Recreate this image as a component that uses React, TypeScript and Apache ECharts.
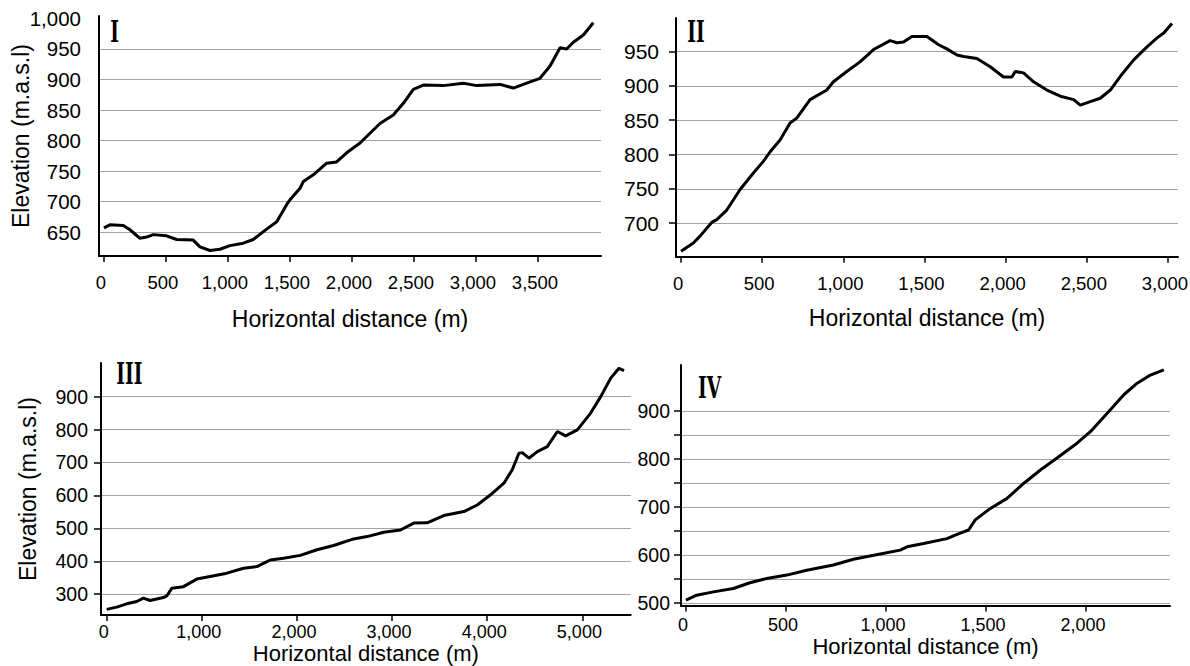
import React, { useEffect, useRef } from 'react';
import * as echarts from 'echarts';

// ---------- Data ----------
// Panel I
const distI = [0, 48, 156, 210, 290, 344, 398, 505, 586, 720, 774, 855, 935, 1016, 1124, 1204, 1312, 1393, 1473, 1500, 1581, 1608, 1688, 1796, 1876, 1957, 2065, 2145, 2226, 2333, 2414, 2495, 2575, 2737, 2898, 3006, 3194, 3301, 3409, 3516, 3597, 3678, 3731, 3785, 3866, 3946];
const elevI = [657, 662, 661, 654, 640, 642, 646, 644, 638, 637, 626, 620, 622, 628, 632, 638, 655, 667, 695, 703, 722, 733, 744, 763, 765, 780, 796, 812, 828, 842, 861, 884, 891, 890, 894, 890, 892, 886, 894, 902, 922, 952, 950, 961, 973, 993];

// Panel II
const distII = [0, 76, 117, 189, 220, 282, 364, 446, 507, 549, 610, 672, 713, 795, 898, 939, 1021, 1103, 1186, 1288, 1330, 1371, 1422, 1515, 1587, 1638, 1700, 1741, 1823, 1905, 1987, 2039, 2059, 2110, 2172, 2254, 2337, 2419, 2460, 2522, 2583, 2645, 2707, 2789, 2871, 2933, 2974, 3025];
const elevII = [659, 671, 681, 701, 705, 719, 749, 773, 790, 804, 821, 846, 853, 880, 894, 906, 921, 935, 953, 966, 963, 964, 972, 972, 960, 954, 945, 943, 940, 928, 913, 913, 921, 919, 906, 894, 885, 880, 872, 877, 882, 894, 914, 938, 957, 970, 977, 991];

// Panel III
const distIII = [0, 105, 210, 316, 386, 456, 596, 632, 684, 806, 947, 1087, 1263, 1438, 1579, 1648, 1719, 1859, 2035, 2210, 2385, 2596, 2737, 2912, 3087, 3228, 3368, 3543, 3754, 3895, 4035, 4175, 4263, 4333, 4368, 4438, 4526, 4631, 4737, 4824, 4947, 5087, 5193, 5298, 5385, 5438];
const elevIII = [254, 261, 271, 278, 288, 281, 290, 295, 318, 323, 346, 354, 364, 379, 384, 394, 404, 409, 418, 435, 448, 468, 475, 488, 495, 516, 517, 539, 551, 571, 602, 637, 678, 728, 730, 713, 733, 748, 794, 781, 799, 850, 900, 956, 986, 979];

// Panel IV
const distIV = [0, 53, 137, 237, 320, 404, 504, 604, 737, 837, 971, 1071, 1105, 1188, 1305, 1355, 1413, 1446, 1522, 1605, 1688, 1772, 1855, 1955, 2022, 2105, 2189, 2256, 2322, 2389];
const elevIV = [506, 516, 523, 530, 542, 551, 558, 568, 579, 591, 602, 610, 617, 624, 634, 643, 652, 673, 697, 718, 749, 777, 802, 833, 857, 895, 934, 958, 975, 986];

// Tick values
const xTicksI = [0, 500, 1000, 1500, 2000, 2500, 3000, 3500];
const yLabelsI = [650, 700, 750, 800, 850, 900, 950, 1000];
const yGridI = [650, 700, 750, 800, 850, 900, 950];
const xTicksII = [0, 500, 1000, 1500, 2000, 2500, 3000];
const yLabelsII = [700, 750, 800, 850, 900, 950];
const xTicksIII = [0, 1000, 2000, 3000, 4000, 5000];
const yLabelsIII = [300, 400, 500, 600, 700, 800, 900];
const xTicksIV = [0, 500, 1000, 1500, 2000];
const yLabelsIV = [500, 600, 700, 800, 900];
const yGridIV = [500, 550, 600, 650, 700, 750, 800, 850, 900];

const panelNames = ['I', 'II', 'III', 'IV'];
const xTitle = 'Horizontal distance (m)';
const yTitle = 'Elevation (m.a.s.l)';

// ---------- Layout ----------
const FONT = '"Liberation Sans", Arial, Helvetica, sans-serif';
const SERIF = '"DejaVu Serif", "Liberation Serif", serif';

const panels = [
  {
    dist: distI, elev: elevI, xTicks: xTicksI, yLabels: yLabelsI, yGrid: yGridI,
    grid: { left: 99, top: 16, width: 502, height: 240 },
    xMin: -40, xMax: 4008, yMin: 611, yMax: 1004,
    yTick: false, yLabelSize: 20.5, yLabelMargin: 18,
    xLabelSize: 18.5, xLabelMargin: 17, xNameGap: 51, xNameSize: 23,
    yName: true, yNameGap: 67, mark: [114.7, 31.7],
  },
  {
    dist: distII, elev: elevII, xTicks: xTicksII, yLabels: yLabelsII, yGrid: yLabelsII,
    grid: { left: 676, top: 18, width: 502, height: 238.7 },
    xMin: -31, xMax: 3062, yMin: 651, yMax: 999,
    yTick: true, yLabelSize: 21, yLabelMargin: 17,
    xLabelSize: 18.5, xLabelMargin: 17, xNameGap: 50, xNameSize: 23,
    yName: false, yNameGap: 0, mark: [696, 32],
  },
  {
    dist: distIII, elev: elevIII, xTicks: xTicksIII, yLabels: yLabelsIII, yGrid: yLabelsIII,
    grid: { left: 101, top: 363, width: 529.7, height: 252 },
    xMin: -60, xMax: 5508, yMin: 237, yMax: 1002,
    yTick: true, yLabelSize: 19.5, yLabelMargin: 13,
    xLabelSize: 18, xLabelMargin: 8, xNameGap: 27, xNameSize: 22,
    yName: true, yNameGap: 62, mark: [129.3, 374],
  },
  {
    dist: distIV, elev: elevIV, xTicks: xTicksIV, yLabels: yLabelsIV, yGrid: yGridIV,
    grid: { left: 681, top: 365, width: 489, height: 240.5 },
    xMin: -25, xMax: 2420, yMin: 494.6, yMax: 996,
    yTick: true, yLabelSize: 19.5, yLabelMargin: 11,
    xLabelSize: 18, xLabelMargin: 10, xNameGap: 30, xNameSize: 22,
    yName: false, yNameGap: 0, mark: [709.5, 387.5],
  },
];

const fmt = (v: number) => Math.round(v).toLocaleString('en-US');

function buildOption() {
  return {
    animation: false,
    backgroundColor: '#ffffff',
    grid: panels.map((p) => ({ ...p.grid, containLabel: false, outerBoundsMode: 'none' })),
    xAxis: panels.map((p, i) => ({
      type: 'value',
      gridIndex: i,
      min: p.xMin,
      max: p.xMax,
      axisLine: { show: true, onZero: false, lineStyle: { color: '#000', width: 2 } },
      axisTick: { show: true, customValues: p.xTicks, length: 6, lineStyle: { color: '#000', width: 1.5 } },
      axisLabel: {
        customValues: p.xTicks, formatter: fmt, color: '#000', fontSize: p.xLabelSize,
        fontFamily: FONT, margin: p.xLabelMargin, padding: [0, 6, 0, 0],
      },
      splitLine: { show: false },
      name: xTitle,
      nameLocation: 'middle',
      nameGap: p.xNameGap,
      nameMoveOverlap: false,
      nameTextStyle: { color: '#000', fontSize: p.xNameSize, fontFamily: FONT },
    })),
    yAxis: panels.map((p, i) => ({
      type: 'value',
      gridIndex: i,
      min: p.yMin,
      max: p.yMax,
      axisLine: { show: true, onZero: false, lineStyle: { color: '#000', width: 2 } },
      axisTick: { show: p.yTick, customValues: p.yGrid, length: 7, lineStyle: { color: '#000', width: 1.5 } },
      axisLabel: {
        customValues: p.yLabels, formatter: fmt, color: '#000', fontSize: p.yLabelSize,
        fontFamily: FONT, margin: p.yLabelMargin,
      },
      splitLine: { show: true, lineStyle: { color: '#a3a3a3', width: 1 } },
      name: p.yName ? yTitle : '',
      nameLocation: 'middle',
      nameGap: p.yNameGap,
      nameMoveOverlap: false,
      nameTextStyle: { color: '#000', fontSize: 23, fontFamily: FONT },
    })),
    series: panels.map((p, i) => ({
      type: 'line',
      xAxisIndex: i,
      yAxisIndex: i,
      data: p.dist.map((d, j) => [d, p.elev[j]]),
      symbol: 'none',
      showSymbol: false,
      lineStyle: { color: '#000', width: 3 },
      silent: true,
    })),
    graphic: panels.map((p, i) => ({
      type: 'text',
      x: p.mark[0],
      y: p.mark[1],
      scaleX: 0.62,
      style: {
        text: panelNames[i],
        x: 0,
        y: 0,
        fill: '#000',
        font: `bold 30px ${SERIF}`,
        align: 'center',
        verticalAlign: 'middle',
      },
    })),
  };
}

export default function App() {
  const ref = useRef<HTMLDivElement | null>(null);
  useEffect(() => {
    if (!ref.current) return;
    const chart = echarts.init(ref.current, null, { renderer: 'svg' });
    chart.setOption(buildOption() as any);
    return () => chart.dispose();
  }, []);
  return (
    <div
      ref={ref}
      style={{ position: 'fixed', left: 0, top: 0, width: 1190, height: 666, background: '#fff' }}
    />
  );
}
